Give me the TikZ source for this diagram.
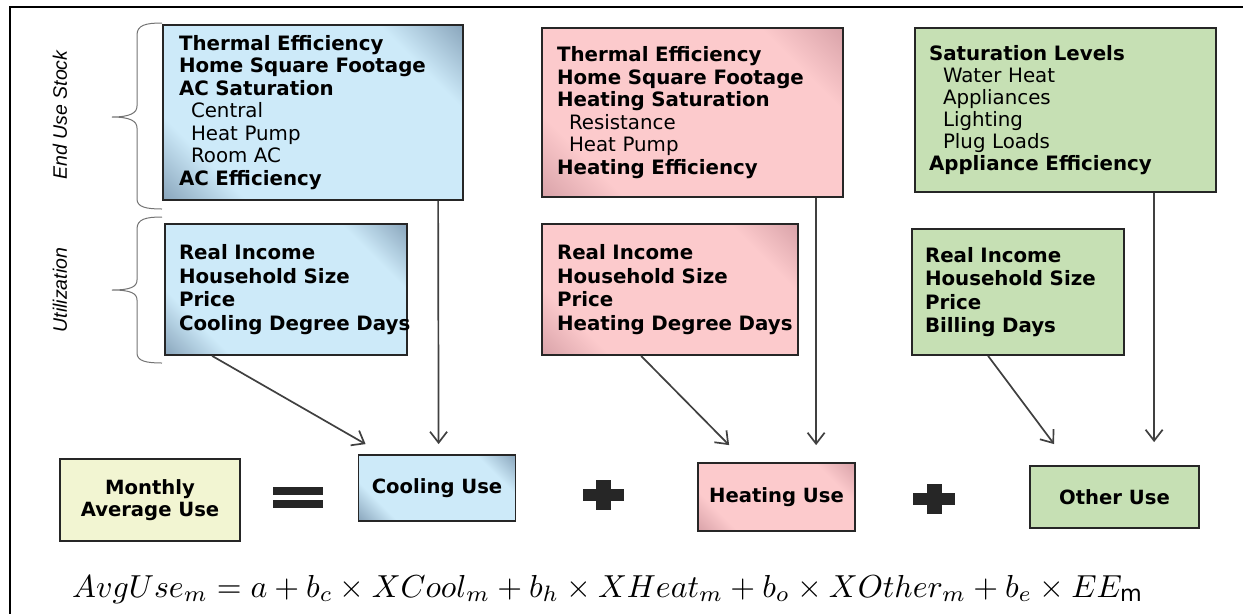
\documentclass[tikz,border=0pt]{standalone}
\usepackage{fontspec}
\setmainfont{DejaVu Sans}
\newfontfamily\sidefont{Liberation Sans}
\usepackage{graphicx}
\usetikzlibrary{arrows.meta}

\definecolor{blueLight}{RGB}{205,234,249}
\definecolor{blueDark}{RGB}{140,168,190}
\definecolor{pinkLight}{RGB}{252,202,204}
\definecolor{pinkDark}{RGB}{218,164,170}
\definecolor{greenFill}{RGB}{198,224,180}
\definecolor{yellowFill}{RGB}{242,245,210}
\definecolor{edgeGray}{RGB}{38,38,38}
\definecolor{arrowGray}{RGB}{64,64,64}

\pgfdeclarehorizontalshading{blueShade}{100bp}{color(0bp)=(blueDark); color(15bp)=(blueDark); color(27bp)=(blueLight); color(73bp)=(blueLight); color(85bp)=(blueDark); color(100bp)=(blueDark)}
\pgfdeclarehorizontalshading{pinkShade}{100bp}{color(0bp)=(pinkDark); color(15bp)=(pinkDark); color(27bp)=(pinkLight); color(73bp)=(pinkLight); color(85bp)=(pinkDark); color(100bp)=(pinkDark)}

\tikzset{
	factbox/.style={draw=edgeGray, line width=1.8pt, align=left, inner ysep=0pt, font=\fontsize{19.8}{22.5}\selectfont},
	usebox/.style={draw=edgeGray, line width=1.8pt, align=center, inner sep=0pt, font=\bfseries\fontsize{19.6}{22}\selectfont},
	coolfill/.style={shade, shading=blueShade, shading angle=45},
	heatfill/.style={shade, shading=pinkShade, shading angle=45},
	otherfill/.style={fill=greenFill},
	feed/.style={draw=arrowGray, line width=1.7pt, -{Straight Barb[length=11pt,width=17pt]}},
	brace/.style={draw=black!55, line width=1pt},
	sidelabel/.style={rotate=90, font=\sidefont\itshape\fontsize{19.5}{21}\selectfont},
	signbar/.style={fill=edgeGray}
}

\begin{document}
\begin{tikzpicture}[x=1pt, y=-1pt]
		%%%%% START %%%%%
		\useasboundingbox (0,0) rectangle (1243,614);
		\draw[line width=2.4pt] (1243,7) -- (10,7) -- (10,614);
		
		\node[sidelabel] (stocklabel) at (60,115) {End Use Stock};
		\node[sidelabel] (utillabel) at (60,290) {Utilization};
		\draw[brace] (162,23) .. controls (146,23) and (137,25) .. (137,35) -- (137,106) .. controls (137,113) and (130,117) .. (112,117) .. controls (130,117) and (137,121) .. (137,128) -- (137,199) .. controls (137,207) and (146,209) .. (162,209);
		\draw[brace] (162,217) .. controls (146,217) and (137,219) .. (137,229) -- (137,280) .. controls (137,287) and (130,290) .. (112,290) .. controls (130,290) and (137,293) .. (137,300) -- (137,353) .. controls (137,361) and (146,363) .. (162,363);
		
		\node[factbox, coolfill, minimum width=300pt, minimum height=175pt, text width=268pt, inner xsep=16pt] (coolstock) at (313,112.5) {\textbf{Thermal Efficiency}\\ \textbf{Home Square Footage}\\ \textbf{AC Saturation}\\ \hspace*{12pt}Central\\ \hspace*{12pt}Heat Pump\\ \hspace*{12pt}Room AC\\ \textbf{AC Efficiency}};
		\node[factbox, heatfill, minimum width=301pt, minimum height=169pt, text width=271pt, inner xsep=15pt] (heatstock) at (692.5,112.5) {\textbf{Thermal Efficiency}\\ \textbf{Home Square Footage}\\ \textbf{Heating Saturation}\\ \hspace*{12pt}Resistance\\ \hspace*{12pt}Heat Pump\\ \textbf{Heating Efficiency}};
		\node[factbox, otherfill, minimum width=301pt, minimum height=164pt, text width=273pt, inner xsep=14pt, font=\fontsize{19.8}{22}\selectfont] (othstock) at (1065.5,110) {\textbf{Saturation Levels}\\ \hspace*{14pt}Water Heat\\ \hspace*{14pt}Appliances\\ \hspace*{14pt}Lighting\\ \hspace*{14pt}Plug Loads\\ \textbf{Appliance Efficiency}};
		
		\node[factbox, coolfill, minimum width=242pt, minimum height=131pt, text width=214pt, inner xsep=14pt, font=\bfseries\fontsize{19.8}{23.5}\selectfont] (coolutil) at (286,289.5) {Real Income\\ Household Size\\ Price\\ \mbox{Cooling Degree Days}};
		\node[factbox, heatfill, minimum width=256pt, minimum height=131pt, text width=226pt, inner xsep=15pt, font=\bfseries\fontsize{19.8}{23.5}\selectfont] (heatutil) at (670,289.5) {Real Income\\ Household Size\\ Price\\ \mbox{Heating Degree Days}};
		\node[factbox, otherfill, minimum width=212pt, minimum height=126pt, text width=186pt, inner xsep=13pt, font=\bfseries\fontsize{19.8}{23.5}\selectfont] (othutil) at (1018,292) {Real Income\\ Household Size\\ Price\\ Billing Days};
		
		\node[usebox, fill=yellowFill, minimum width=180pt, minimum height=82pt] (monthly) at (150,500) {Monthly\\ Average Use};
		\node[usebox, coolfill, minimum width=157pt, minimum height=66pt] (cooluse) at (437,488) {Cooling Use};
		\node[usebox, heatfill, minimum width=157pt, minimum height=68pt] (heatuse) at (776.5,497) {Heating Use};
		\node[usebox, otherfill, minimum width=169pt, minimum height=62pt] (othuse) at (1114.5,497) {Other Use};
		
		\fill[signbar] (273,487) rectangle (323,495);
		\fill[signbar] (273,500) rectangle (323,508);
		\fill[signbar] (583,489) rectangle (624,501);
		\fill[signbar] (596,480) rectangle (611,510);
		\fill[signbar] (913,493) rectangle (955,505);
		\fill[signbar] (927,484) rectangle (942,514);
		
		\draw[feed] ([xshift=48pt]coolutil.south west) -- ([xshift=8pt,yshift=10pt]cooluse.north west);
		\draw[feed] ([xshift=276pt]coolstock.south west) -- ([xshift=81pt,yshift=10pt]cooluse.north west);
		\draw[feed] ([xshift=100pt]heatutil.south west) -- ([xshift=32pt,yshift=17pt]heatuse.north west);
		\draw[feed] ([xshift=275pt]heatstock.south west) -- ([xshift=119pt,yshift=17pt]heatuse.north west);
		\draw[feed] ([xshift=77pt]othutil.south west) -- ([xshift=25pt,yshift=21pt]othuse.north west);
		\draw[feed] ([xshift=240pt]othstock.south west) -- ([xshift=125pt,yshift=23pt]othuse.north west);
		
		\node[anchor=base west, inner sep=0pt] (formula) at (72,597) {\resizebox{1071pt}{!}{$AvgUse_m = a + b_c \times XCool_m + b_h \times XHeat_m + b_o \times XOther_m + b_e \times EE_{\mathrm{m}}$}};
		%%%%% END %%%%%
\end{tikzpicture}
\end{document}
